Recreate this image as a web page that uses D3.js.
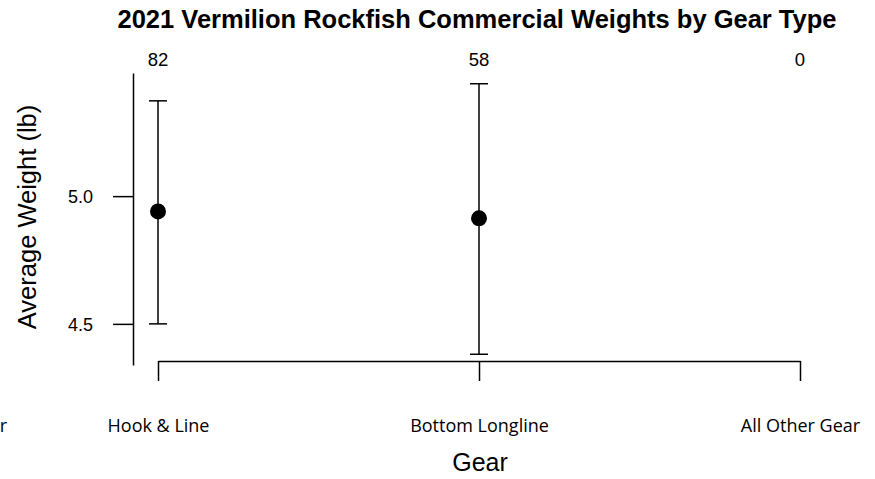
<!DOCTYPE html>
<html><head><meta charset="utf-8">
<script src="https://cdn.jsdelivr.net/npm/d3@7"></script>
<style>body{margin:0;background:#fff}</style>
</head><body>
<svg id="c" width="875" height="479"></svg>
<script>
const gears = ["Hook & Line", "Bottom Longline", "All Other Gear"];
const counts = [82, 58, 0];
const means = [4.94, 4.913, null];
const lower = [4.50, 4.381, null];
const upper = [5.373, 5.440, null];
const yTicks = [4.5, 5.0];

const ARIAL = "'Liberation Sans', Arial, sans-serif";
const SEGOE = "'Open Sans', sans-serif";
const svg = d3.select("#c");
const x = d3.scaleLinear().domain([1, 3]).range([158, 800]);
const y = d3.scaleLinear().domain([4.339, 5.482]).range([365, 73]);

// title
svg.append("text").attr("x", 477).attr("y", 28).attr("text-anchor", "middle")
  .attr("font-family", ARIAL).attr("font-weight", "bold").attr("font-size", 25.5)
  .text("2021 Vermilion Rockfish Commercial Weights by Gear Type");

// y axis
const ya = svg.append("g").attr("transform", "translate(133,0)")
  .call(d3.axisLeft(y).tickValues(yTicks).tickFormat(d3.format(".1f")).tickSize(20).tickSizeOuter(0));
ya.select(".domain").attr("stroke", "#000").attr("stroke-width", 1.5);
ya.selectAll(".tick line").attr("stroke-width", 1.5);
ya.selectAll(".tick text").attr("x", -40).attr("dy", "0.38em")
  .attr("font-family", ARIAL).attr("font-size", 18).attr("fill", "#000");

svg.append("text").attr("transform", "translate(36,217) rotate(-90)").attr("text-anchor", "middle")
  .attr("font-family", ARIAL).attr("font-size", 25.5).text("Average Weight (lb)");

// x axis
const xa = svg.append("g").attr("transform", "translate(0,361)")
  .call(d3.axisBottom(x).tickValues([1, 2, 3]).tickFormat((d, i) => gears[i]).tickSize(20).tickSizeOuter(0));
xa.select(".domain").attr("stroke", "#000").attr("stroke-width", 1.5);
xa.selectAll(".tick line").attr("stroke-width", 1.5);
xa.selectAll(".tick text").attr("y", 71).attr("dy", 0)
  .attr("font-family", SEGOE).attr("font-size", 18).attr("fill", "#000");

// clipped label at far left
svg.append("text").attr("x", 7).attr("y", 432).attr("text-anchor", "end")
  .attr("font-family", SEGOE).attr("font-size", 18).text("Trap/Pot Gear");

svg.append("text").attr("x", 480).attr("y", 471).attr("text-anchor", "middle")
  .attr("font-family", ARIAL).attr("font-size", 25).text("Gear");

// counts
svg.selectAll(".cnt").data(counts).enter().append("text")
  .attr("x", (d, i) => x(i + 1)).attr("y", 66).attr("text-anchor", "middle")
  .attr("font-family", ARIAL).attr("font-size", 18.5).text(d => d);

// error bars and points
const idx = d3.range(gears.length).filter(i => means[i] != null);
const g = svg.append("g").attr("stroke", "#000").attr("stroke-width", 1.5);
idx.forEach(i => {
  const cx = x(i + 1);
  g.append("line").attr("x1", cx).attr("x2", cx).attr("y1", y(lower[i])).attr("y2", y(upper[i]));
  g.append("line").attr("x1", cx - 9).attr("x2", cx + 9).attr("y1", y(lower[i])).attr("y2", y(lower[i]));
  g.append("line").attr("x1", cx - 9).attr("x2", cx + 9).attr("y1", y(upper[i])).attr("y2", y(upper[i]));
});
svg.selectAll(".pt").data(idx).enter().append("circle")
  .attr("cx", i => x(i + 1)).attr("cy", i => y(means[i])).attr("r", 8).attr("fill", "#000");
</script>
</body></html>
